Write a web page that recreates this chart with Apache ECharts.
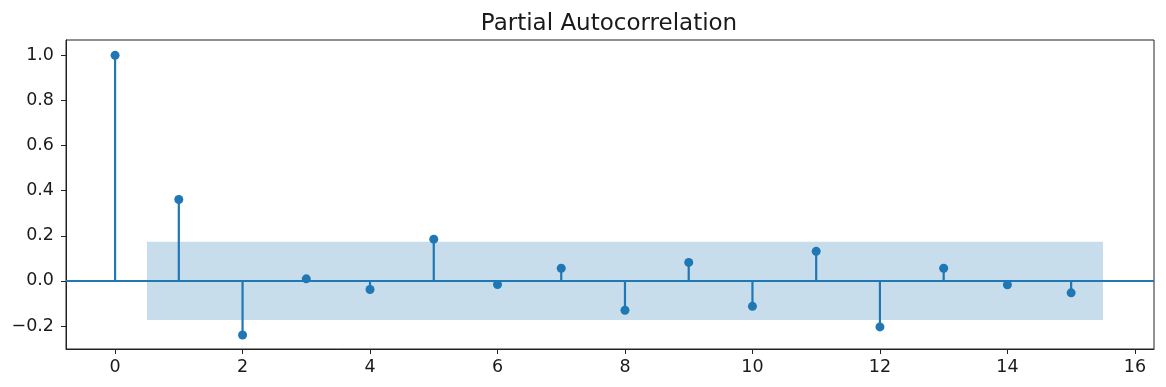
<!DOCTYPE html>
<html>
<head>
<meta charset="utf-8">
<script src="https://cdn.jsdelivr.net/npm/echarts@6/dist/echarts.min.js"></script>
<style>
html,body{margin:0;padding:0;background:#fff;}
#chart{width:1166px;height:387px;}
</style>
</head>
<body>
<div id="chart"></div>
<script>
const lags = [0,1,2,3,4,5,6,7,8,9,10,11,12,13,14,15];
const pacf = [1.0,0.361,-0.24,0.009,-0.038,0.185,-0.016,0.056,-0.13,0.082,-0.113,0.131,-0.204,0.056,-0.017,-0.053];
const bandStartEnd = [0.5, 15.5];
const bandHalfWidth = 0.173;
const xTicks = [0,2,4,6,8,10,12,14,16];
const yTicks = [-0.2,0.0,0.2,0.4,0.6,0.8,1.0];

const C0 = '#1f77b4';
const font = 'DejaVu Sans';
const chart = echarts.init(document.getElementById('chart'), null, {renderer:'canvas'});

const stemData = lags.map((l,i)=>[l,pacf[i]]);

chart.setOption({
  animation:false,
  backgroundColor:'#fff',
  title:{
    text:'Partial Autocorrelation',
    left:604, top:8, textAlign:'center',
    textStyle:{fontFamily:font,fontSize:23,fontWeight:'normal',color:'#1a1a1a'}
  },
  grid:{left:66,right:12,top:40,bottom:38,show:true,borderColor:'#222',borderWidth:1,backgroundColor:'transparent'},
  xAxis:{
    type:'value',min:-0.77,max:16.3,
    splitLine:{show:false},
    axisLine:{show:true,onZero:false,lineStyle:{color:'#222',width:1}},
    axisTick:{show:true,length:5,customValues:xTicks,lineStyle:{color:'#222'}},
    axisLabel:{customValues:xTicks,margin:9,fontFamily:font,fontSize:17.5,color:'#1a1a1a',formatter:v=>String(v)}
  },
  yAxis:{
    type:'value',min:-0.302,max:1.068,
    splitLine:{show:false},
    axisLine:{show:true,onZero:false,lineStyle:{color:'#222',width:1}},
    axisTick:{show:true,length:5,customValues:yTicks,lineStyle:{color:'#222'}},
    axisLabel:{customValues:yTicks,margin:12,fontFamily:font,fontSize:17.5,color:'#1a1a1a',
      formatter:v=>{const s=Math.abs(v).toFixed(1);return (v< -1e-9?'\u2212':'')+s;}}
  },
  series:[
    {
      type:'custom',
      z:1,
      data:[[bandStartEnd[0],bandStartEnd[1],-bandHalfWidth,bandHalfWidth]],
      renderItem:(params,api)=>{
        const p1=api.coord([api.value(0),api.value(3)]);
        const p2=api.coord([api.value(1),api.value(2)]);
        return {type:'rect',shape:{x:p1[0],y:p1[1],width:p2[0]-p1[0],height:p2[1]-p1[1]},
          style:{fill:C0,opacity:0.25}};
      },
      silent:true
    },
    {
      type:'custom',
      z:3,
      data:stemData,
      renderItem:(params,api)=>{
        const a=api.coord([api.value(0),0]);
        const b=api.coord([api.value(0),api.value(1)]);
        return {type:'line',shape:{x1:a[0],y1:a[1],x2:b[0],y2:b[1]},style:{stroke:C0,lineWidth:2.2}};
      },
      markLine:{
        silent:true,symbol:['none','none'],label:{show:false},
        lineStyle:{color:C0,width:2.2,type:'solid'},
        data:[{yAxis:0}]
      },
      silent:true
    },
    {
      type:'scatter',
      z:4,
      data:stemData,
      symbol:'circle',
      symbolSize:9,
      itemStyle:{color:C0,opacity:1},
      silent:true
    }
  ]
});
</script>
</body>
</html>
